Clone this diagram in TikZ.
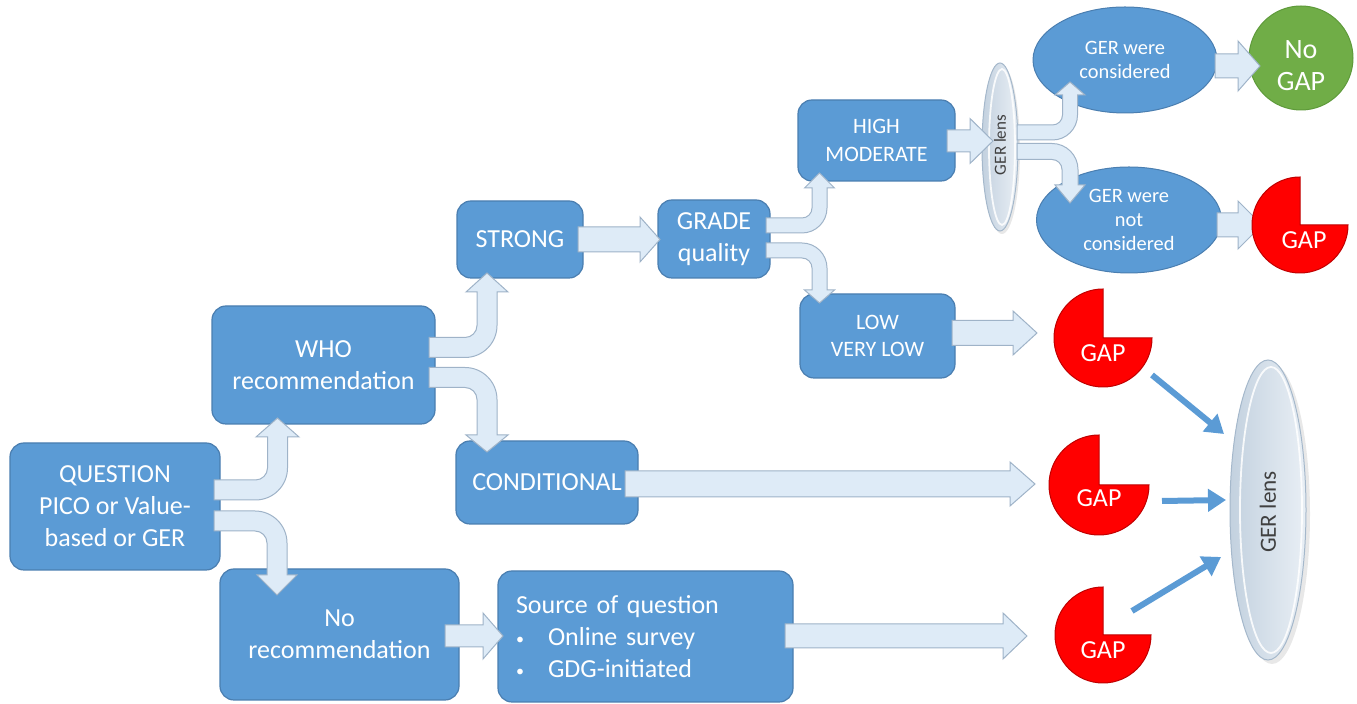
\documentclass[tikz,border=0pt]{standalone}
\usepackage{fontspec}
\setmainfont{Carlito}
\usetikzlibrary{shapes.geometric,arrows.meta}
\definecolor{boxblue}{HTML}{5B9BD5}
\definecolor{boxline}{HTML}{4A7EB0}
\definecolor{arrowfill}{HTML}{DEEBF7}
\definecolor{arrowline}{HTML}{9FB3C8}
\definecolor{gapred}{HTML}{FF0000}
\definecolor{gapline}{HTML}{C00000}
\definecolor{gapgreen}{HTML}{70AD47}
\definecolor{greenline}{HTML}{5E9A3A}
\definecolor{lensL}{HTML}{C3D1DF}
\definecolor{lensM}{HTML}{D6E0EA}
\definecolor{lensR}{HTML}{E9EFF5}
\definecolor{lensline}{HTML}{A5B8CB}
\definecolor{lenstext}{HTML}{404040}
\newcommand{\blockR}[6]{%
 \draw[barrow] (#1,#4-#5) -- (#2,#4-#5) -- (#2,#4-#6) -- (#3,#4) -- (#2,#4+#6) -- (#2,#4+#5) -- (#1,#4+#5) -- cycle;}
\newcommand{\bentUp}[8]{%
 \draw[barrow] (#1,#2-#6) -- (#3-#6-#8,#2-#6)
 .. controls (#3-#6-0.4477*#8,#2-#6) and (#3-#6,#2-#6-0.4477*#8) .. (#3-#6,#2-#6-#8)
 -- (#3-#6,#4) -- (#3-#7,#4) -- (#3,#5) -- (#3+#7,#4) -- (#3+#6,#4)
 -- (#3+#6,#2-#6-#8)
 .. controls ({#3+#6},{#2-#6-#8+0.5523*(#8+2*#6)}) and ({#3-#6-#8+0.5523*(#8+2*#6)},{#2+#6}) .. (#3-#6-#8,#2+#6)
 -- (#1,#2+#6) -- cycle;}
\newcommand{\bentDown}[8]{%
 \draw[barrow] (#1,#2-#6) -- (#3-#6-#8,#2-#6)
 .. controls ({#3-#6-#8+0.5523*(#8+2*#6)},{#2-#6}) and ({#3+#6},{#2+#6+#8-0.5523*(#8+2*#6)}) .. (#3+#6,#2+#6+#8)
 -- (#3+#6,#4) -- (#3+#7,#4) -- (#3,#5) -- (#3-#7,#4) -- (#3-#6,#4)
 -- (#3-#6,#2+#6+#8)
 .. controls (#3-#6,#2+#6+0.4477*#8) and (#3-#6-0.4477*#8,#2+#6) .. (#3-#6-#8,#2+#6)
 -- (#1,#2+#6) -- cycle;}
\newcommand{\pacman}[3]{%
 \draw[pac] (#1,#2-#3) .. controls (#1-0.5523*#3,#2-#3) and (#1-#3,#2-0.5523*#3) .. (#1-#3,#2)
 .. controls (#1-#3,#2+0.5523*#3) and (#1-0.5523*#3,#2+#3) .. (#1,#2+#3)
 .. controls (#1+0.5523*#3,#2+#3) and (#1+#3,#2+0.5523*#3) .. (#1+#3,#2)
 -- (#1,#2) -- cycle;}
\newcommand{\smallbullet}{\makebox[16pt][l]{\raisebox{0.5pt}{\fontsize{8pt}{8pt}\selectfont\textbullet}}}
\begin{document}
\begin{tikzpicture}[x=0.5pt,y=-0.5pt,
 box/.style={draw=boxline, line width=0.6pt, fill=boxblue, rounded corners=7pt, text=white, align=center, inner sep=0pt, font=\fontsize{13pt}{16pt}\selectfont},
 smallbox/.style={box, font=\fontsize{11pt}{13.7pt}\selectfont},
 oval/.style={ellipse, draw=boxline, line width=0.5pt, fill=boxblue, text=white, align=center, inner sep=0pt, font=\fontsize{10.2pt}{12pt}\selectfont},
 barrow/.style={draw=arrowline, line width=0.5pt, fill=arrowfill},
 pac/.style={fill=gapred, draw=gapline, line width=0.5pt},
 gaptext/.style={text=white, font=\fontsize{13pt}{15pt}\selectfont},
 lens/.style={ellipse, draw=lensline, line width=0.5pt, left color=lensL, right color=lensR, middle color=lensM, inner sep=0pt},
 lensshadow/.style={fill=black!30, opacity=0.3},
 lenshi/.style={draw=white, opacity=0.85, line width=0.9pt},
 lenslabel/.style={rotate=90, text=lenstext},
 bluearrow/.style={draw=boxblue, line width=3pt, -{Triangle[length=9pt,width=11pt]}}
]
\useasboundingbox (0,0) rectangle (1357,704);

% boxes
\node[box, minimum width=105pt, minimum height=63.5pt] (q) at (115,506.5) {QUESTION\\PICO or Value-\\based or GER};
\node[box, minimum width=111.5pt, minimum height=59pt] (who) at (323.5,365) {WHO\\recommendation};
\node[box, minimum width=63pt, minimum height=38.5pt] (strong) at (520,239.5) {STRONG};
\node[box, minimum width=91pt, minimum height=41.5pt] (cond) at (547,482.5) {CONDITIONAL};
\node[box, minimum width=119.5pt, minimum height=65.5pt] (norec) at (339.5,634.5) {No\\recommendation};
\node[box, minimum width=147.5pt, minimum height=65.5pt, text width=129.5pt, inner xsep=9pt, align=left] (src) at (645.5,636.5) {Source of question\\\smallbullet Online survey\\\smallbullet GDG-initiated};
\node[box, minimum width=56pt, minimum height=39pt] (grade) at (714,239) {GRADE\\quality};
\node[smallbox, minimum width=78.5pt, minimum height=40.5pt] (high) at (876.5,140.5) {HIGH\\MODERATE};
\node[smallbox, minimum width=77.5pt, minimum height=42pt] (low) at (877.5,336) {LOW\\VERY LOW};

% ovals and circle
\node[oval, minimum width=92pt, minimum height=53pt] (cons) at (1125,60) {GER were\\considered};
\node[oval, minimum width=92.5pt, minimum height=53pt] (ncons) at (1129,220) {GER were\\not\\considered};
\node[circle, fill=gapgreen, draw=greenline, line width=0.5pt, minimum size=52pt, inner sep=0pt] (nogap) at (1301,58) {};
\node[text=white, align=center, font=\fontsize{14pt}{16pt}\selectfont] (nogaptext) at (1301,66) {No\\GAP};

% lenses
\fill[lensshadow] (1002,150) ellipse (18 and 84);
\node[lens, minimum width=18pt, minimum height=84pt] (lens1) at (1000,147) {};
\draw[lenshi] (1002,147) ellipse (13 and 78);
\node[lenslabel, font=\fontsize{8.5pt}{10pt}\selectfont] (lens1text) at (1000,145) {GER lens};
\fill[lensshadow] (1272,514) ellipse (38 and 150);
\node[lens, minimum width=38pt, minimum height=150pt] (lens2) at (1268,510) {};
\draw[lenshi] (1271,510) ellipse (31 and 143);
\node[lenslabel, font=\fontsize{11.6pt}{13pt}\selectfont] (lens2text) at (1268,512) {GER lens};

% block arrows
\bentUp{214}{490}{277.5}{437}{418}{10}{21.5}{12}
\bentDown{214}{521}{277}{575}{595}{10}{20}{12}
\bentUp{429}{347.5}{487}{292}{273}{10}{21}{12}
\bentDown{429}{377.5}{487}{435}{452}{10}{21}{12}
\bentUp{766}{225.5}{819.5}{188}{173}{7.5}{15}{10}
\bentDown{766}{250.5}{819.5}{290}{303}{7.5}{15}{10}
\bentUp{1017}{132.5}{1070}{95}{82}{7.5}{15}{10}
\bentDown{1017}{151.5}{1070}{185}{203}{8}{15}{10}
\blockR{578}{640}{660}{239.5}{12.5}{22.5}
\blockR{947}{970}{993}{141}{11}{22.5}
\blockR{1215}{1238}{1260}{66}{12}{25}
\blockR{1217}{1238}{1262}{225}{12}{24}
\blockR{952}{1013}{1037}{333}{12.5}{22}
\blockR{625}{1010}{1035}{484}{13}{22}
\blockR{785}{1003}{1027}{636}{12}{23}
\blockR{445}{483}{503}{636}{11}{23}

% GAP shapes
\pacman{1300}{225}{48}
\node[gaptext] (gap1) at (1304,240) {GAP};
\pacman{1103}{338}{49}
\node[gaptext] (gap2) at (1103,353) {GAP};
\pacman{1099}{485}{50}
\node[gaptext] (gap3) at (1099,498) {GAP};
\pacman{1103}{635}{48}
\node[gaptext] (gap4) at (1103,650) {GAP};

% arrows to GER lens
\coordinate (a1s) at (1152,375);
\coordinate (a1e) at (1224,434);
\coordinate (a2s) at (1162,501);
\coordinate (a2e) at (1226,500);
\coordinate (a3s) at (1132,611);
\coordinate (a3e) at (1221,557);
\draw[bluearrow] (a1s) -- (a1e);
\draw[bluearrow] (a2s) -- (a2e);
\draw[bluearrow] (a3s) -- (a3e);
\end{tikzpicture}
\end{document}
